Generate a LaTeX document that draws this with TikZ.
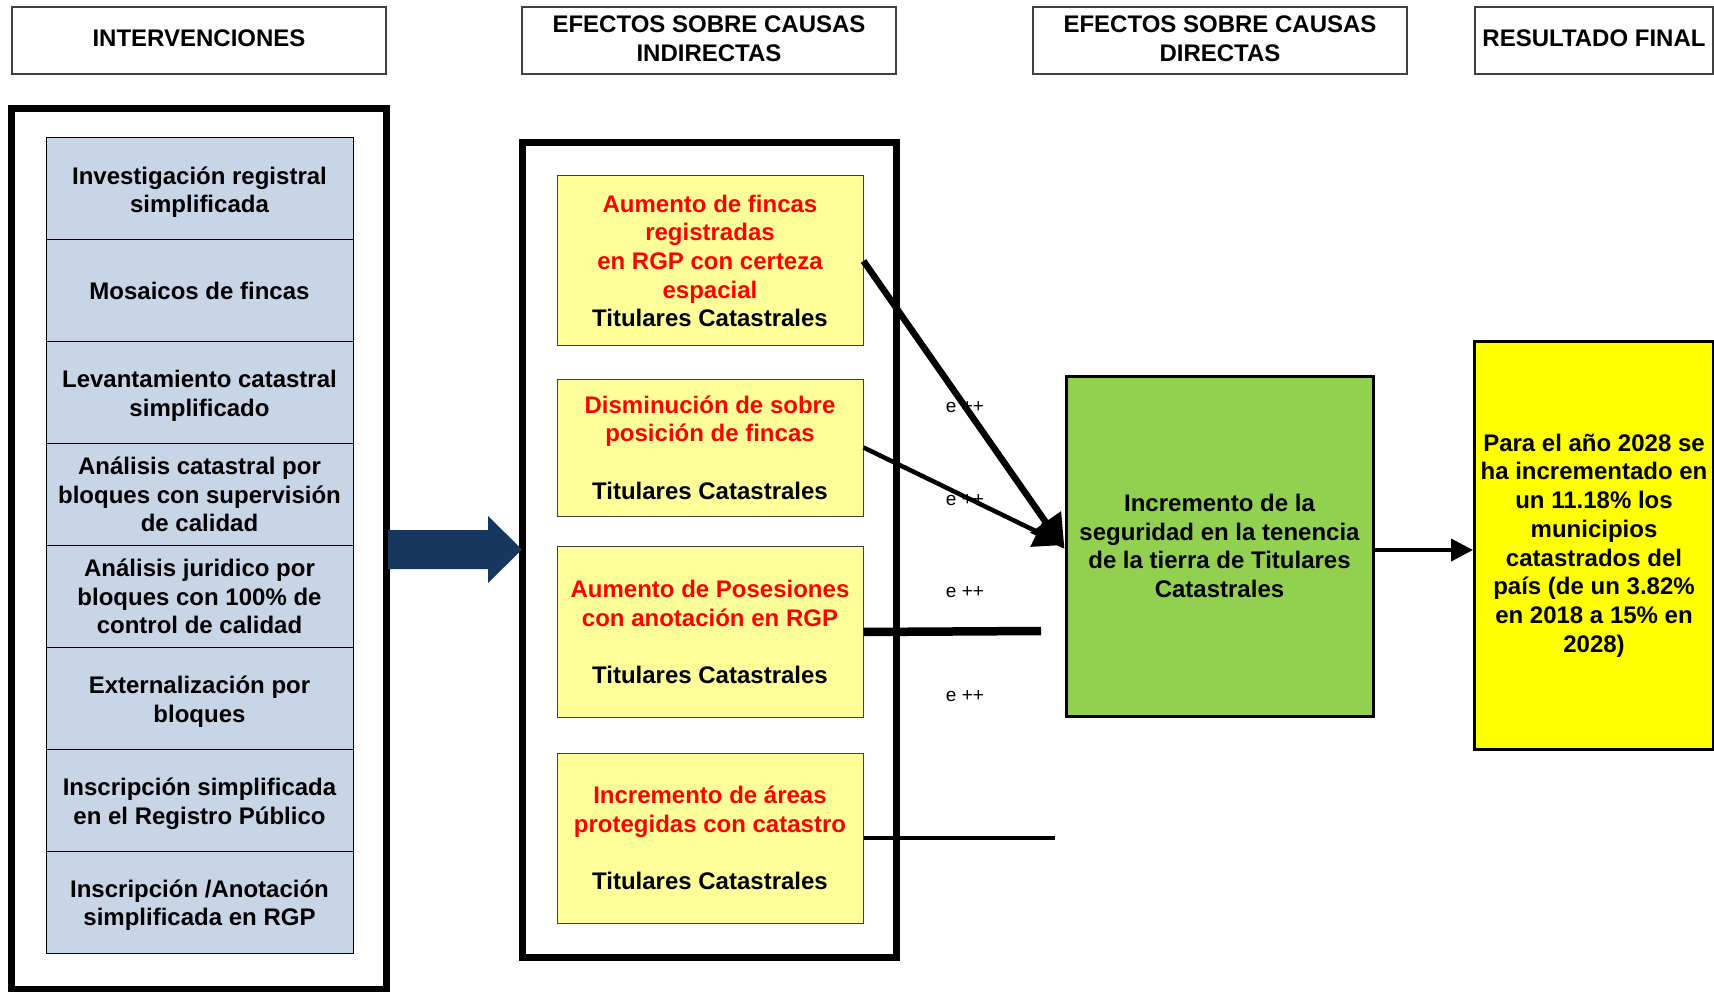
\documentclass[tikz,border=0pt]{standalone}
\usepackage{fontspec}
\setmainfont{Liberation Sans}
\usetikzlibrary{arrows.meta,calc}
\definecolor{bluebox}{RGB}{200,213,230}
\definecolor{yelbox}{RGB}{255,255,153}
\definecolor{greenbox}{RGB}{146,208,80}
\definecolor{navyarrow}{RGB}{23,55,94}
\definecolor{edgegray}{RGB}{64,64,64}
\definecolor{finalyellow}{RGB}{255,255,0}
\newcommand{\lift}{\rule[-4.4pt]{0pt}{0pt}}
\newcommand{\drop}{\rule{0pt}{24pt}}
\begin{document}
\begin{tikzpicture}[x=1pt,y=-1pt,
  txt/.style={font=\fontsize{24}{28.7}\selectfont\bfseries, align=center, inner sep=0pt},
  hdr/.style={txt, draw=edgegray, line width=1.2pt, minimum height=67pt},
  bluecell/.style={txt, draw=black, line width=1pt, fill=bluebox, minimum width=307pt, minimum height=101.9pt},
  yelcell/.style={txt, draw=edgegray, line width=1pt, fill=yelbox, minimum width=306pt, text=red},
  bigframe/.style={draw=black, line width=7pt, inner sep=0pt},
  lbl/.style={font=\fontsize{19}{22}\selectfont, inner sep=0pt},
]
\useasboundingbox (0,0) rectangle (1714,992);
\fill[white] (0,0) rectangle (1714,992);

% headers
\node[hdr, minimum width=374pt] (h1) at (199,40.5) {INTERVENCIONES\lift};
\node[hdr, minimum width=374pt] (h2) at (709,40.5) {EFECTOS SOBRE CAUSAS\\INDIRECTAS\lift};
\node[hdr, minimum width=374pt] (h3) at (1220,40.5) {EFECTOS SOBRE CAUSAS\\DIRECTAS\lift};
\node[hdr, minimum width=238pt] (h4) at (1594,40.5) {RESULTADO FINAL\lift};

% frames
\node[bigframe, minimum width=375pt, minimum height=880pt] (leftframe) at (199,549) {};
\node[bigframe, minimum width=374pt, minimum height=814.5pt] (midframe) at (709.5,549.75) {};

% intervention cells
\node[bluecell] (b1) at (199.5,188.9) {\drop Investigación registral\\simplificada};
\node[bluecell] (b2) at (199.5,290.8) {Mosaicos de fincas};
\node[bluecell] (b3) at (199.5,392.7) {\drop Levantamiento catastral\\simplificado};
\node[bluecell] (b4) at (199.5,494.6) {Análisis catastral por\\bloques con supervisión\\de calidad};
\node[bluecell] (b5) at (199.5,596.4) {Análisis juridico por\\bloques con 100\% de\\control de calidad};
\node[bluecell] (b6) at (199.5,698.3) {\drop Externalización por\\bloques};
\node[bluecell] (b7) at (199.5,800.2) {\drop Inscripción simplificada\\en el Registro Público};
\node[bluecell] (b8) at (199.5,902.1) {\drop Inscripción /Anotación\\simplificada en RGP};

% big navy arrow
\fill[navyarrow] (388,530) -- (488,530) -- (488,516) -- (522,549.5) -- (488,583) -- (488,569) -- (388,569) -- cycle;

% indirect effects
\node[yelcell, minimum height=170pt] (y1) at (710,261) {Aumento de fincas\\registradas\\en RGP con certeza\\espacial\\\textcolor{black}{Titulares Catastrales}};
\node[yelcell, minimum height=137pt] (y2) at (710,447.5) {Disminución de sobre\\posición de fincas\\\mbox{}\\\textcolor{black}{Titulares Catastrales}};
\node[yelcell, minimum height=170.5pt] (y3) at (710,632) {Aumento de Posesiones\\con anotación en RGP\\\mbox{}\\\textcolor{black}{Titulares Catastrales}};
\node[yelcell, minimum height=170pt] (y4) at (710,838) {Incremento de áreas\\protegidas con catastro\\\mbox{}\\\textcolor{black}{Titulares Catastrales}};

% direct effect and final result
\node[txt, draw=black, line width=3pt, fill=greenbox, minimum width=307pt, minimum height=340pt] (g) at (1219.5,546) {Incremento de la\\seguridad en la tenencia\\de la tierra de Titulares\\Catastrales};
\node[txt, draw=black, line width=3pt, fill=finalyellow, minimum width=239pt, minimum height=407pt] (f) at (1594,545.5) {Para el año 2028 se\\ha incrementado en\\un 11.18\% los\\municipios\\catastrados del\\país (de un 3.82\%\\en 2018 a 15\% en\\2028)};

% labels
\node[lbl] (l1) at (965,407) {e ++};
\node[lbl] (l2) at (965,500) {e ++};
\node[lbl] (l3) at (965,592) {e ++};
\node[lbl] (l4) at (965,696) {e ++};

\coordinate (c3) at (1041,631);
\coordinate (c4) at (1055,838);

% connectors
\draw[line width=6.5pt, -{Triangle[length=33pt,width=36pt]}] (y1.east) -- ($(g.west)+(0,3)$);
\draw[line width=4.5pt, -{Triangle[length=30pt,width=32pt]}] (y2.east) -- ($(g.west)+(0,-1)$);
\draw[line width=8.5pt] (y3.east) -- (c3);
\draw[line width=4pt] (y4.east) -- (c4);
\draw[line width=4pt, -{Triangle[length=22pt,width=22pt]}] ($(g.east)+(0,4)$) -- ($(f.west)+(0,4.5)$);
\end{tikzpicture}
\end{document}
